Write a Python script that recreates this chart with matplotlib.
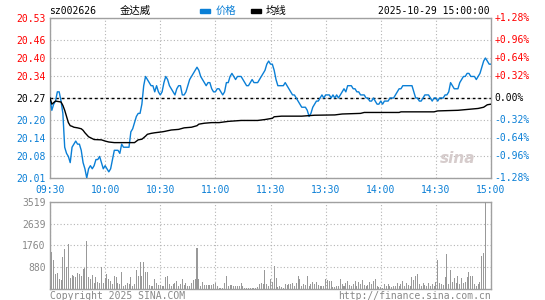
import numpy as np
import matplotlib
matplotlib.use("Agg")
import matplotlib.pyplot as plt
from matplotlib.patches import Rectangle

# 金达威 sz002626 分时图 2025-10-29
code = "sz002626"
name = "金达威"
stamp = "2025-10-29 15:00:00"
pre_close = 20.27

time_labels = ["09:30", "10:00", "10:30", "11:00", "11:30", "13:30", "14:00", "14:30", "15:00"]
price_ticks = [20.01, 20.08, 20.14, 20.20, 20.27, 20.34, 20.40, 20.46, 20.53]
pct_labels = ["-1.28%", "-0.96%", "-0.64%", "-0.32%", "0.00%", "+0.32%", "+0.64%", "+0.96%", "+1.28%"]
vol_ticks = [880, 1760, 2639, 3519]

# price per trading minute (0 = 09:30, 240 = 15:00)
price = [
    20.27, 20.23, 20.25, 20.26, 20.29, 20.29, 20.26, 20.22, 20.11, 20.09,
    20.08, 20.06, 20.11, 20.12, 20.13, 20.12, 20.12, 20.10, 20.06, 20.04,
    20.01, 20.04, 20.05, 20.04, 20.05, 20.07, 20.07, 20.08, 20.06, 20.04,
    20.05, 20.04, 20.03, 20.04, 20.07, 20.10, 20.10, 20.10, 20.09, 20.12,
    20.11, 20.11, 20.11, 20.11, 20.16, 20.17, 20.19, 20.21, 20.22, 20.22,
    20.25, 20.31, 20.34, 20.33, 20.32, 20.31, 20.31, 20.29, 20.31, 20.29,
    20.28, 20.29, 20.32, 20.34, 20.33, 20.31, 20.30, 20.29, 20.28, 20.30,
    20.31, 20.31, 20.28, 20.28, 20.29, 20.31, 20.33, 20.34, 20.35, 20.36,
    20.37, 20.36, 20.34, 20.33, 20.32, 20.31, 20.32, 20.32, 20.30, 20.29,
    20.29, 20.30, 20.30, 20.29, 20.28, 20.29, 20.32, 20.32, 20.34, 20.35,
    20.34, 20.33, 20.34, 20.34, 20.34, 20.33, 20.32, 20.31, 20.31, 20.32,
    20.33, 20.32, 20.32, 20.32, 20.33, 20.34, 20.35, 20.36, 20.38, 20.39,
    20.38, 20.38, 20.36, 20.33, 20.31, 20.31, 20.31, 20.31, 20.32, 20.31,
    20.30, 20.29, 20.28, 20.28, 20.27, 20.26, 20.25, 20.24, 20.24, 20.24,
    20.23, 20.21, 20.22, 20.24, 20.25, 20.26, 20.26, 20.27, 20.28, 20.27,
    20.28, 20.28, 20.28, 20.27, 20.28, 20.27, 20.28, 20.27, 20.28, 20.29,
    20.30, 20.29, 20.31, 20.31, 20.31, 20.30, 20.30, 20.29, 20.29, 20.28,
    20.28, 20.28, 20.27, 20.27, 20.26, 20.26, 20.27, 20.26, 20.25, 20.25,
    20.26, 20.25, 20.26, 20.26, 20.26, 20.27, 20.27, 20.27, 20.28, 20.29,
    20.30, 20.30, 20.31, 20.31, 20.31, 20.31, 20.31, 20.31, 20.29, 20.27,
    20.27, 20.26, 20.26, 20.27, 20.28, 20.28, 20.28, 20.27, 20.26, 20.27,
    20.27, 20.26, 20.27, 20.27, 20.27, 20.28, 20.28, 20.29, 20.32, 20.31,
    20.30, 20.30, 20.30, 20.32, 20.33, 20.34, 20.34, 20.35, 20.35, 20.34,
    20.34, 20.34, 20.33, 20.34, 20.35, 20.37, 20.39, 20.40, 20.39, 20.38,
    20.38,
]

avg_minute = [0, 1, 3, 6, 7, 8, 9, 10, 11, 12, 13, 15, 17, 18, 19, 21, 23, 24, 28, 30, 32, 35,
              46, 48, 50, 52, 53, 55, 57, 61, 62, 66, 70, 73, 77, 80, 81, 84, 88, 92, 97, 104,
              113, 117, 121, 122, 126, 137, 144, 155, 159, 169, 171, 190, 191, 209, 211, 222,
              233, 236, 238, 240]
avg_value = [20.270, 20.250, 20.260, 20.257, 20.246, 20.230, 20.210, 20.190, 20.180, 20.178,
             20.175, 20.173, 20.170, 20.165, 20.157, 20.144, 20.138, 20.135, 20.134, 20.130,
             20.127, 20.125, 20.125, 20.134, 20.136, 20.146, 20.152, 20.155, 20.157, 20.160,
             20.161, 20.166, 20.168, 20.173, 20.175, 20.180, 20.185, 20.188, 20.190, 20.190,
             20.194, 20.197, 20.197, 20.200, 20.204, 20.209, 20.211, 20.211, 20.214, 20.215,
             20.218, 20.220, 20.223, 20.223, 20.225, 20.225, 20.228, 20.230, 20.236, 20.240,
             20.248, 20.250]

volume = [
    140, 1500, 1150, 590, 632, 420, 350, 1305, 1600, 870,
    1825, 450, 560, 530, 480, 630, 590, 530, 800, 840,
    1940, 490, 420, 560, 250, 490, 300, 240, 870, 240,
    450, 590, 420, 310, 200, 530, 490, 240, 210, 700,
    140, 170, 250, 210, 490, 140, 210, 770, 530, 1095,
    530, 1095, 700, 700, 170, 140, 140, 390, 240, 170,
    170, 140, 140, 480, 530, 210, 140, 200, 250, 310,
    140, 210, 420, 170, 250, 140, 110, 250, 350, 390,
    1640, 420, 140, 280, 170, 170, 180, 150, 170, 210,
    250, 140, 60, 60, 60, 250, 530, 140, 170, 170,
    140, 120, 110, 140, 250, 140, 60, 40, 40, 40,
    40, 40, 60, 100, 210, 250, 210, 760, 210, 140,
    420, 300, 910, 450, 100, 140, 100, 60, 210, 150,
    210, 210, 250, 140, 240, 530, 390, 140, 210, 160,
    530, 110, 210, 280, 210, 280, 150, 140, 140, 110,
    390, 350, 320, 320, 100, 100, 120, 140, 390, 210,
    140, 240, 310, 150, 140, 200, 310, 140, 280, 210,
    350, 150, 140, 180, 280, 210, 310, 390, 140, 100,
    80, 60, 210, 140, 210, 140, 100, 120, 140, 240,
    110, 210, 310, 140, 240, 150, 140, 490, 350, 530,
    590, 210, 140, 250, 150, 140, 240, 140, 210, 140,
    280, 1150, 250, 210, 170, 490, 1400, 210, 760, 300,
    450, 240, 530, 210, 450, 250, 300, 490, 670, 530,
    530, 210, 140, 210, 300, 1330, 1450, 3519, 0, 0,
    0,
]

BLUE = "#0a7fd6"
RED = "#ff0000"
GRAY = "#888888"
MONO = "DejaVu Sans Mono"
CJK = ["Noto Sans CJK SC", "DejaVu Sans"]

fig = plt.figure(figsize=(5.45, 3.0), dpi=100)
W, H = 545.0, 300.0

def px_axes(left, top, right, bottom):
    return fig.add_axes([left / W, 1 - bottom / H, (right - left) / W, (bottom - top) / H])

ax = px_axes(50, 18, 491, 178)
ax2 = px_axes(50, 201.7, 491, 289)

minutes = np.arange(len(price))
xt = np.arange(0, 241, 30)

# price panel
ax.plot(minutes, price, color=BLUE, lw=1.0, zorder=3)
ax.plot(avg_minute, avg_value, color="black", lw=1.0, zorder=3)
ax.axhline(pre_close, color="black", lw=1.0, linestyle=(0, (2, 2)), zorder=2)
ax.set_xlim(0, 240)
ax.set_ylim(price_ticks[0], price_ticks[-1])
ax.set_xticks(xt)
ax.set_xticklabels(time_labels)
ax.set_yticks(price_ticks)
ax.set_yticklabels(["%.2f" % v for v in price_ticks])
for lbl, v in zip(ax.get_yticklabels(), price_ticks):
    lbl.set_color(RED if v > pre_close else ("black" if v == pre_close else BLUE))
for lbl in ax.get_xticklabels():
    lbl.set_color(BLUE)
ax.tick_params(length=0, labelsize=7, pad=3)
ax.tick_params(axis="x", pad=5)
for lbl in ax.get_xticklabels() + ax.get_yticklabels():
    lbl.set_family(MONO)
ax.grid(True, color="#b4b4b4", lw=0.8, linestyle=(0, (1, 2)))
ax.set_axisbelow(True)
for s in ax.spines.values():
    s.set_color("#a0a0a0")
    s.set_linewidth(1.0)

for v, t in zip(price_ticks, pct_labels):
    c = RED if v > pre_close else ("black" if v == pre_close else BLUE)
    ax.text(1.008, v, t, transform=ax.get_yaxis_transform(), color=c,
            fontsize=7, family=MONO, va="center", ha="left")

# watermark
ax.text(0.925, 0.12, "sina", transform=ax.transAxes, color="#d6cccc", fontsize=11,
        fontweight="bold", style="italic", ha="center", va="center", zorder=1)

# volume panel
ax2.bar(np.arange(len(volume)), volume, width=0.55, color="#999999", zorder=3)
ax2.set_xlim(0, 240)
ax2.set_ylim(0, vol_ticks[-1])
ax2.set_xticks(xt)
ax2.set_xticklabels([])
ax2.set_yticks(vol_ticks)
ax2.set_yticklabels([str(v) for v in vol_ticks])
ax2.tick_params(length=0, labelsize=7, labelcolor=GRAY, pad=3)
for lbl in ax2.get_yticklabels():
    lbl.set_family(MONO)
ax2.grid(True, color="#b4b4b4", lw=0.8, linestyle=(0, (1, 2)))
ax2.set_axisbelow(True)
for s in ax2.spines.values():
    s.set_color("#a0a0a0")
    s.set_linewidth(1.0)

# header
fig.text(49 / W, 1 - 11 / H, code, fontsize=7, family=MONO, va="center", ha="left")
fig.text(120 / W, 1 - 11 / H, name, fontsize=7.5, family=CJK, va="center", ha="left")
fig.add_artist(Rectangle((200 / W, 1 - 12.5 / H), 10 / W, 3 / H, color=BLUE, transform=fig.transFigure))
fig.text(216 / W, 1 - 11 / H, "价格", fontsize=7.5, family=CJK, color=BLUE, va="center", ha="left")
fig.add_artist(Rectangle((251 / W, 1 - 12.5 / H), 10 / W, 3 / H, color="black", transform=fig.transFigure))
fig.text(266 / W, 1 - 11 / H, "均线", fontsize=7.5, family=CJK, va="center", ha="left")
fig.text(490 / W, 1 - 11 / H, stamp, fontsize=7, family=MONO, va="center", ha="right")

# footer
fig.text(50 / W, 1 - 296 / H, "Copyright 2025 SINA.COM", fontsize=7, family=MONO, color=GRAY,
         va="center", ha="left")
fig.text(491 / W, 1 - 296 / H, "http://finance.sina.com.cn", fontsize=7, family=MONO, color=GRAY,
         va="center", ha="right")

fig.savefig("out.png", dpi=100)
